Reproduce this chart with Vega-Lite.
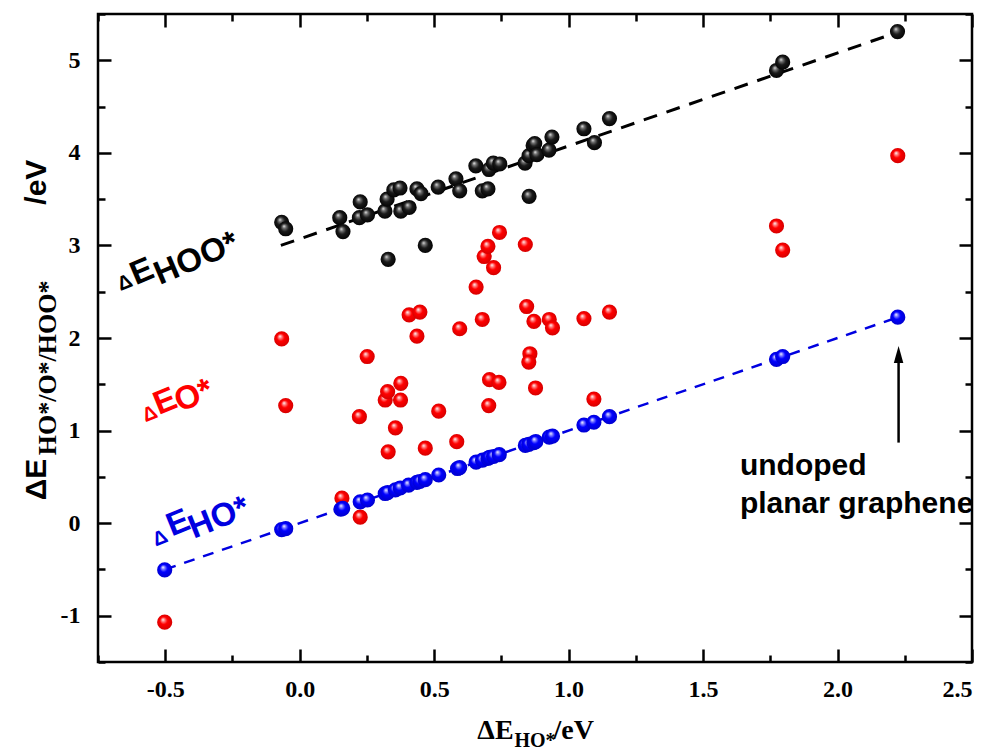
{
  "$schema": "https://vega.github.io/schema/vega-lite/v6.json",
  "width": 874,
  "height": 648,
  "autosize": {"type": "none"},
  "padding": {"left": 98, "top": 14, "right": 23, "bottom": 93},
  "background": "white",
  "config": {
    "view": {"stroke": "black", "strokeWidth": 2.5},
    "axis": {
      "grid": false,
      "domain": false,
      "ticks": true,
      "tickColor": "black",
      "tickWidth": 2.5,
      "labelFont": "Liberation Serif",
      "labelFontWeight": "bold",
      "labelFontSize": 24,
      "labelColor": "black",
      "title": null
    }
  },
  "resolve": {"axis": {"x": "independent", "y": "independent"}},
  "datasets": {
    "one": [{}],
    "fits": [
      {"fit": "HOO", "x": -0.07, "y": 3.0},
      {"fit": "HOO", "x": 2.22, "y": 5.3},
      {"fit": "HO", "x": -0.5, "y": -0.5},
      {"fit": "HO", "x": 2.22, "y": 2.22}
    ],
    "points": [
      {"s": "HOO", "x": -0.067, "y": 3.25},
      {"s": "HOO", "x": -0.052, "y": 3.18},
      {"s": "HOO", "x": 0.149, "y": 3.30},
      {"s": "HOO", "x": 0.161, "y": 3.15},
      {"s": "HOO", "x": 0.225, "y": 3.47},
      {"s": "HOO", "x": 0.222, "y": 3.30},
      {"s": "HOO", "x": 0.252, "y": 3.33},
      {"s": "HOO", "x": 0.317, "y": 3.37},
      {"s": "HOO", "x": 0.325, "y": 3.50},
      {"s": "HOO", "x": 0.329, "y": 2.85},
      {"s": "HOO", "x": 0.350, "y": 3.60},
      {"s": "HOO", "x": 0.373, "y": 3.62},
      {"s": "HOO", "x": 0.376, "y": 3.37},
      {"s": "HOO", "x": 0.407, "y": 3.41},
      {"s": "HOO", "x": 0.436, "y": 3.61},
      {"s": "HOO", "x": 0.451, "y": 3.56},
      {"s": "HOO", "x": 0.467, "y": 3.00},
      {"s": "HOO", "x": 0.515, "y": 3.63},
      {"s": "HOO", "x": 0.581, "y": 3.72},
      {"s": "HOO", "x": 0.595, "y": 3.59},
      {"s": "HOO", "x": 0.655, "y": 3.86},
      {"s": "HOO", "x": 0.679, "y": 3.59},
      {"s": "HOO", "x": 0.700, "y": 3.61},
      {"s": "HOO", "x": 0.704, "y": 3.82},
      {"s": "HOO", "x": 0.720, "y": 3.89},
      {"s": "HOO", "x": 0.744, "y": 3.88},
      {"s": "HOO", "x": 0.838, "y": 3.89},
      {"s": "HOO", "x": 0.853, "y": 3.97},
      {"s": "HOO", "x": 0.853, "y": 3.53},
      {"s": "HOO", "x": 0.868, "y": 4.08},
      {"s": "HOO", "x": 0.874, "y": 4.10},
      {"s": "HOO", "x": 0.882, "y": 3.98},
      {"s": "HOO", "x": 0.927, "y": 4.03},
      {"s": "HOO", "x": 0.938, "y": 4.17},
      {"s": "HOO", "x": 1.057, "y": 4.26},
      {"s": "HOO", "x": 1.096, "y": 4.11},
      {"s": "HOO", "x": 1.152, "y": 4.37},
      {"s": "HOO", "x": 1.773, "y": 4.89},
      {"s": "HOO", "x": 1.796, "y": 4.98},
      {"s": "HOO", "x": 2.223, "y": 5.31},
      {"s": "O", "x": -0.502, "y": -1.07},
      {"s": "O", "x": -0.067, "y": 1.99},
      {"s": "O", "x": -0.052, "y": 1.27},
      {"s": "O", "x": 0.157, "y": 0.27},
      {"s": "O", "x": 0.225, "y": 0.065},
      {"s": "O", "x": 0.222, "y": 1.15},
      {"s": "O", "x": 0.251, "y": 1.80},
      {"s": "O", "x": 0.318, "y": 1.33},
      {"s": "O", "x": 0.327, "y": 1.42},
      {"s": "O", "x": 0.329, "y": 0.77},
      {"s": "O", "x": 0.356, "y": 1.03},
      {"s": "O", "x": 0.375, "y": 1.33},
      {"s": "O", "x": 0.376, "y": 1.51},
      {"s": "O", "x": 0.407, "y": 2.25},
      {"s": "O", "x": 0.447, "y": 2.28},
      {"s": "O", "x": 0.436, "y": 2.02},
      {"s": "O", "x": 0.467, "y": 0.81},
      {"s": "O", "x": 0.517, "y": 1.21},
      {"s": "O", "x": 0.584, "y": 0.88},
      {"s": "O", "x": 0.595, "y": 2.10},
      {"s": "O", "x": 0.656, "y": 2.55},
      {"s": "O", "x": 0.679, "y": 2.20},
      {"s": "O", "x": 0.686, "y": 2.88},
      {"s": "O", "x": 0.700, "y": 2.99},
      {"s": "O", "x": 0.721, "y": 2.76},
      {"s": "O", "x": 0.743, "y": 3.14},
      {"s": "O", "x": 0.703, "y": 1.27},
      {"s": "O", "x": 0.706, "y": 1.55},
      {"s": "O", "x": 0.741, "y": 1.52},
      {"s": "O", "x": 0.839, "y": 3.01},
      {"s": "O", "x": 0.844, "y": 2.34},
      {"s": "O", "x": 0.871, "y": 2.18},
      {"s": "O", "x": 0.856, "y": 1.83},
      {"s": "O", "x": 0.852, "y": 1.74},
      {"s": "O", "x": 0.877, "y": 1.46},
      {"s": "O", "x": 0.928, "y": 2.20},
      {"s": "O", "x": 0.940, "y": 2.11},
      {"s": "O", "x": 1.057, "y": 2.21},
      {"s": "O", "x": 1.094, "y": 1.34},
      {"s": "O", "x": 1.152, "y": 2.28},
      {"s": "O", "x": 1.773, "y": 3.21},
      {"s": "O", "x": 1.796, "y": 2.95},
      {"s": "O", "x": 2.224, "y": 3.97},
      {"s": "HO", "x": -0.502, "y": -0.505},
      {"s": "HO", "x": -0.067, "y": -0.07},
      {"s": "HO", "x": -0.052, "y": -0.06},
      {"s": "HO", "x": 0.153, "y": 0.15},
      {"s": "HO", "x": 0.160, "y": 0.16},
      {"s": "HO", "x": 0.225, "y": 0.23},
      {"s": "HO", "x": 0.252, "y": 0.25},
      {"s": "HO", "x": 0.318, "y": 0.32},
      {"s": "HO", "x": 0.327, "y": 0.33},
      {"s": "HO", "x": 0.356, "y": 0.36},
      {"s": "HO", "x": 0.374, "y": 0.38},
      {"s": "HO", "x": 0.405, "y": 0.41},
      {"s": "HO", "x": 0.436, "y": 0.44},
      {"s": "HO", "x": 0.447, "y": 0.45},
      {"s": "HO", "x": 0.467, "y": 0.47},
      {"s": "HO", "x": 0.517, "y": 0.52},
      {"s": "HO", "x": 0.587, "y": 0.59},
      {"s": "HO", "x": 0.595, "y": 0.60},
      {"s": "HO", "x": 0.656, "y": 0.66},
      {"s": "HO", "x": 0.680, "y": 0.68},
      {"s": "HO", "x": 0.700, "y": 0.70},
      {"s": "HO", "x": 0.706, "y": 0.71},
      {"s": "HO", "x": 0.721, "y": 0.72},
      {"s": "HO", "x": 0.742, "y": 0.74},
      {"s": "HO", "x": 0.839, "y": 0.84},
      {"s": "HO", "x": 0.852, "y": 0.85},
      {"s": "HO", "x": 0.871, "y": 0.87},
      {"s": "HO", "x": 0.878, "y": 0.88},
      {"s": "HO", "x": 0.928, "y": 0.93},
      {"s": "HO", "x": 0.940, "y": 0.94},
      {"s": "HO", "x": 1.057, "y": 1.06},
      {"s": "HO", "x": 1.094, "y": 1.09},
      {"s": "HO", "x": 1.152, "y": 1.15},
      {"s": "HO", "x": 1.773, "y": 1.77},
      {"s": "HO", "x": 1.796, "y": 1.80},
      {"s": "HO", "x": 2.224, "y": 2.225}
    ]
  },
  "layer": [
    {
      "data": {"name": "fits"},
      "transform": [{"filter": "datum.fit === 'HOO'"}],
      "mark": {"type": "line", "color": "black", "strokeWidth": 3, "strokeDash": [14, 10]},
      "encoding": {
        "x": {"field": "x", "type": "quantitative", "scale": {"domain": [-0.75, 2.5], "nice": false, "zero": false},
          "axis": {"orient": "bottom", "values": [-0.5, 0, 0.5, 1, 1.5, 2, 2.5], "tickSize": -13, "labelPadding": 28,
            "labelExpr": "datum.value < 0 ? '-' + format(-datum.value, '.1f') : format(datum.value, '.1f')"}},
        "y": {"field": "y", "type": "quantitative", "scale": {"domain": [-1.5, 5.5], "nice": false, "zero": false},
          "axis": {"orient": "left", "values": [-1, 0, 1, 2, 3, 4, 5], "tickSize": -13, "labelPadding": 31,
            "labelExpr": "datum.value < 0 ? '-' + format(-datum.value, 'd') : format(datum.value, 'd')"}}
      }
    },
    {
      "data": {"name": "fits"},
      "transform": [{"filter": "datum.fit === 'HO'"}],
      "mark": {"type": "line", "color": "#0000e0", "strokeWidth": 2.5, "strokeDash": [11, 9]},
      "encoding": {
        "x": {"field": "x", "type": "quantitative", "scale": {"domain": [-0.75, 2.5], "nice": false, "zero": false},
          "axis": {"orient": "bottom", "values": [-0.75, -0.25, 0.25, 0.75, 1.25, 1.75, 2.25], "tickSize": -7, "labels": false}},
        "y": {"field": "y", "type": "quantitative", "scale": {"domain": [-1.5, 5.5], "nice": false, "zero": false},
          "axis": {"orient": "left", "values": [-1.5, -0.5, 0.5, 1.5, 2.5, 3.5, 4.5, 5.5], "tickSize": -7, "labels": false}}
      }
    },
    {
      "data": {"name": "points"},
      "transform": [{"filter": "datum.s === 'HOO'"}],
      "mark": {"type": "point", "filled": true, "size": 230, "strokeWidth": 0, "opacity": 1,
        "fill": {"gradient": "radial", "x1": 0.38, "y1": 0.32, "r1": 0, "x2": 0.5, "y2": 0.5, "r2": 0.55,
          "stops": [{"offset": 0, "color": "#e8e8e8"}, {"offset": 0.22, "color": "#707070"}, {"offset": 0.5, "color": "#1a1a1a"}, {"offset": 1, "color": "#000000"}]}},
      "encoding": {
        "x": {"field": "x", "type": "quantitative",
          "axis": {"orient": "top", "values": [-0.5, 0, 0.5, 1, 1.5, 2, 2.5], "tickSize": -13, "labels": false}},
        "y": {"field": "y", "type": "quantitative",
          "axis": {"orient": "right", "values": [-1, 0, 1, 2, 3, 4, 5], "tickSize": -13, "labels": false}}
      }
    },
    {
      "data": {"name": "points"},
      "transform": [{"filter": "datum.s === 'O'"}],
      "mark": {"type": "point", "filled": true, "size": 230, "strokeWidth": 0, "opacity": 1,
        "fill": {"gradient": "radial", "x1": 0.38, "y1": 0.32, "r1": 0, "x2": 0.5, "y2": 0.5, "r2": 0.55,
          "stops": [{"offset": 0, "color": "#ffffff"}, {"offset": 0.2, "color": "#ff8080"}, {"offset": 0.45, "color": "#ff0000"}, {"offset": 1, "color": "#d00000"}]}},
      "encoding": {
        "x": {"field": "x", "type": "quantitative",
          "axis": {"orient": "top", "values": [-0.75, -0.25, 0.25, 0.75, 1.25, 1.75, 2.25], "tickSize": -7, "labels": false}},
        "y": {"field": "y", "type": "quantitative",
          "axis": {"orient": "right", "values": [-1.5, -0.5, 0.5, 1.5, 2.5, 3.5, 4.5, 5.5], "tickSize": -7, "labels": false}}
      }
    },
    {
      "data": {"name": "points"},
      "transform": [{"filter": "datum.s === 'HO'"}],
      "mark": {"type": "point", "filled": true, "size": 230, "strokeWidth": 0, "opacity": 1,
        "fill": {"gradient": "radial", "x1": 0.38, "y1": 0.32, "r1": 0, "x2": 0.5, "y2": 0.5, "r2": 0.55,
          "stops": [{"offset": 0, "color": "#ffffff"}, {"offset": 0.2, "color": "#8080ff"}, {"offset": 0.45, "color": "#0000ff"}, {"offset": 1, "color": "#0000c8"}]}},
      "encoding": {
        "x": {"field": "x", "type": "quantitative", "axis": null},
        "y": {"field": "y", "type": "quantitative", "axis": null}
      }
    },
    {
      "data": {"name": "one"},
      "mark": {"type": "rule", "color": "black", "strokeWidth": 2.5},
      "encoding": {
        "x": {"datum": 2.227, "type": "quantitative", "axis": null},
        "y": {"datum": 0.87, "type": "quantitative", "axis": null},
        "y2": {"datum": 1.74}
      }
    },
    {
      "data": {"name": "one"},
      "mark": {"type": "point", "shape": "M0,-1L-0.28,0L0.28,0Z", "size": 1156, "filled": true, "color": "black", "opacity": 1, "strokeWidth": 0},
      "encoding": {
        "x": {"datum": 2.227, "type": "quantitative", "axis": null},
        "y": {"datum": 1.73, "type": "quantitative", "axis": null}
      }
    },
    {
      "data": {"name": "one"},
      "mark": {"type": "text", "text": ["undoped", "planar graphene"], "font": "Liberation Sans", "fontWeight": "bold", "fontSize": 30, "lineHeight": 38, "align": "left", "baseline": "alphabetic", "color": "black"},
      "encoding": {
        "x": {"datum": 1.637, "type": "quantitative", "axis": null},
        "y": {"datum": 0.517, "type": "quantitative", "axis": null}
      }
    },
    {
      "data": {"name": "one"},
      "mark": {"type": "text", "text": "Δ", "font": "Liberation Sans", "fontWeight": "bold", "fontSize": 20, "angle": 338, "align": "left", "baseline": "alphabetic", "color": "black"},
      "encoding": {"x": {"datum": -0.666, "type": "quantitative", "axis": null}, "y": {"datum": 2.508, "type": "quantitative", "axis": null}}
    },
    {
      "data": {"name": "one"},
      "mark": {"type": "text", "text": "E", "font": "Liberation Sans", "fontWeight": "bold", "fontSize": 33, "angle": 337, "align": "left", "baseline": "alphabetic", "color": "black"},
      "encoding": {"x": {"datum": -0.61, "type": "quantitative", "axis": null}, "y": {"datum": 2.57, "type": "quantitative", "axis": null}}
    },
    {
      "data": {"name": "one"},
      "mark": {"type": "text", "text": "HOO*", "font": "Liberation Sans", "fontWeight": "bold", "fontSize": 33, "angle": 337, "align": "left", "baseline": "alphabetic", "color": "black"},
      "encoding": {"x": {"datum": -0.52, "type": "quantitative", "axis": null}, "y": {"datum": 2.573, "type": "quantitative", "axis": null}}
    },
    {
      "data": {"name": "one"},
      "mark": {"type": "text", "text": "Δ", "font": "Liberation Sans", "fontWeight": "bold", "fontSize": 20, "angle": 338, "align": "left", "baseline": "alphabetic", "color": "#ff0000"},
      "encoding": {"x": {"datum": -0.573, "type": "quantitative", "axis": null}, "y": {"datum": 1.089, "type": "quantitative", "axis": null}}
    },
    {
      "data": {"name": "one"},
      "mark": {"type": "text", "text": "E", "font": "Liberation Sans", "fontWeight": "bold", "fontSize": 33, "angle": 338, "align": "left", "baseline": "alphabetic", "color": "#ff0000"},
      "encoding": {"x": {"datum": -0.524, "type": "quantitative", "axis": null}, "y": {"datum": 1.167, "type": "quantitative", "axis": null}}
    },
    {
      "data": {"name": "one"},
      "mark": {"type": "text", "text": "O*", "font": "Liberation Sans", "fontWeight": "bold", "fontSize": 33, "angle": 338, "align": "left", "baseline": "alphabetic", "color": "#ff0000"},
      "encoding": {"x": {"datum": -0.446, "type": "quantitative", "axis": null}, "y": {"datum": 1.197, "type": "quantitative", "axis": null}}
    },
    {
      "data": {"name": "one"},
      "mark": {"type": "text", "text": "Δ", "font": "Liberation Sans", "fontWeight": "bold", "fontSize": 20, "angle": 338, "align": "left", "baseline": "alphabetic", "color": "#0000e0"},
      "encoding": {"x": {"datum": -0.535, "type": "quantitative", "axis": null}, "y": {"datum": -0.252, "type": "quantitative", "axis": null}}
    },
    {
      "data": {"name": "one"},
      "mark": {"type": "text", "text": "E", "font": "Liberation Sans", "fontWeight": "bold", "fontSize": 33, "angle": 338, "align": "left", "baseline": "alphabetic", "color": "#0000e0"},
      "encoding": {"x": {"datum": -0.476, "type": "quantitative", "axis": null}, "y": {"datum": -0.144, "type": "quantitative", "axis": null}}
    },
    {
      "data": {"name": "one"},
      "mark": {"type": "text", "text": "HO*", "font": "Liberation Sans", "fontWeight": "bold", "fontSize": 33, "angle": 338, "align": "left", "baseline": "alphabetic", "color": "#0000e0"},
      "encoding": {"x": {"datum": -0.394, "type": "quantitative", "axis": null}, "y": {"datum": -0.169, "type": "quantitative", "axis": null}}
    },
    {
      "data": {"name": "one"},
      "mark": {"type": "text", "text": "ΔE", "font": "Liberation Serif", "fontWeight": "bold", "fontSize": 28, "align": "left", "baseline": "alphabetic", "color": "black"},
      "encoding": {"x": {"datum": 0.6606, "type": "quantitative", "axis": null}, "y": {"datum": -2.333, "type": "quantitative", "axis": null}}
    },
    {
      "data": {"name": "one"},
      "mark": {"type": "text", "text": "HO*", "font": "Liberation Serif", "fontWeight": "bold", "fontSize": 20, "align": "left", "baseline": "alphabetic", "color": "black"},
      "encoding": {"x": {"datum": 0.7984, "type": "quantitative", "axis": null}, "y": {"datum": -2.419, "type": "quantitative", "axis": null}}
    },
    {
      "data": {"name": "one"},
      "mark": {"type": "text", "text": "/eV", "font": "Liberation Serif", "fontWeight": "bold", "fontSize": 28, "align": "left", "baseline": "alphabetic", "color": "black"},
      "encoding": {"x": {"datum": 0.9437, "type": "quantitative", "axis": null}, "y": {"datum": -2.333, "type": "quantitative", "axis": null}}
    },
    {
      "data": {"name": "one"},
      "mark": {"type": "text", "text": "ΔE", "font": "Liberation Sans", "fontWeight": "bold", "fontSize": 30, "angle": 270, "align": "left", "baseline": "alphabetic", "color": "black"},
      "encoding": {"x": {"datum": -0.9452, "type": "quantitative", "axis": null}, "y": {"datum": 0.246, "type": "quantitative", "axis": null}}
    },
    {
      "data": {"name": "one"},
      "mark": {"type": "text", "text": "HO*/O*/HOO*", "font": "Liberation Serif", "fontWeight": "bold", "fontSize": 26, "angle": 270, "align": "left", "baseline": "alphabetic", "color": "black"},
      "encoding": {"x": {"datum": -0.908, "type": "quantitative", "axis": null}, "y": {"datum": 0.733, "type": "quantitative", "axis": null}}
    },
    {
      "data": {"name": "one"},
      "mark": {"type": "text", "text": "/eV", "font": "Liberation Sans", "fontWeight": "bold", "fontSize": 30, "angle": 270, "align": "left", "baseline": "alphabetic", "color": "black"},
      "encoding": {"x": {"datum": -0.9452, "type": "quantitative", "axis": null}, "y": {"datum": 3.44, "type": "quantitative", "axis": null}}
    }
  ]
}
